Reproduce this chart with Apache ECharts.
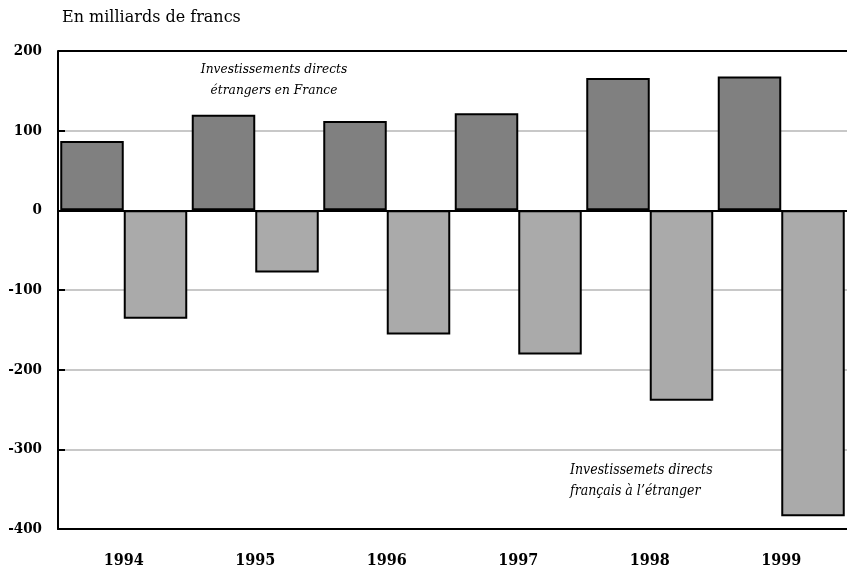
<!DOCTYPE html>
<html><head><meta charset="utf-8">
<script src="https://cdn.jsdelivr.net/npm/echarts@6/dist/echarts.min.js"></script>
<style>html,body{margin:0;padding:0;background:#fff}#c{width:847px;height:572px}</style>
</head><body><div id="c"></div>
<script>
const years = ['1994','1995','1996','1997','1998','1999'];
const inward = [87, 120, 112, 122, 166, 168];      // Investissements directs étrangers en France
const outward = [-136, -78, -156, -181, -239, -384]; // Investissements directs français à l'étranger
const yTicks = [-400, -300, -200, -100, 0, 100, 200];

const serif = '"DejaVu Serif", serif';
const cond = '"DejaVu Serif Condensed", "DejaVu Serif", serif';
const gridColors = yTicks.map(v => (v === 0 || v === 200 || v === -400) ? '#000' : '#c8c8c8');

const chart = echarts.init(document.getElementById('c'));
chart.setOption({
  animation: false,
  backgroundColor: '#fff',
  grid: { left: 58, top: 51, right: -5, bottom: 43, containLabel: false },
  xAxis: {
    type: 'category', data: years,
    axisLine: { onZero: false, lineStyle: { color: '#000', width: 2 } },
    axisTick: { show: false },
    axisLabel: { fontFamily: cond, fontWeight: 'bold', fontSize: 16, color: '#000', margin: 24 }
  },
  yAxis: {
    type: 'value', min: -400, max: 200, interval: 100,
    axisLine: { show: true, lineStyle: { color: '#000', width: 2 } },
    axisTick: { show: true, inside: true, length: 7, lineStyle: { color: '#000', width: 2 } },
    axisLabel: { fontFamily: cond, fontWeight: 'bold', fontSize: 15, color: '#000', margin: 16 },
    splitLine: { show: true, lineStyle: { color: gridColors, width: 2 } }
  },
  series: [
    { type: 'bar', name: 'Investissements directs étrangers en France', data: inward,
      barWidth: 63.5, barGap: '0%',
      itemStyle: { color: '#808080', borderColor: '#000', borderWidth: 2 } },
    { type: 'bar', name: 'Investissemets directs français à l\'étranger', data: outward,
      barWidth: 63.5, barGap: '0%',
      itemStyle: { color: '#aaaaaa', borderColor: '#000', borderWidth: 2 } }
  ],
  graphic: [
    { type: 'text', left: 62, top: 10, style: { text: 'En milliards de francs', font: '16px ' + serif, fill: '#000' } },
    { type: 'text', x: 274, y: 59, style: { text: 'Investissements directs\nétrangers en France', font: 'italic 13.6px ' + cond, fill: '#000', textAlign: 'center', lineHeight: 21 } },
    { type: 'text', x: 570, y: 460, style: { text: 'Investissemets directs\nfrançais à l\u2019étranger', font: 'italic 14px ' + cond, fill: '#000', textAlign: 'left', lineHeight: 21 } }
  ]
});
</script></body></html>
